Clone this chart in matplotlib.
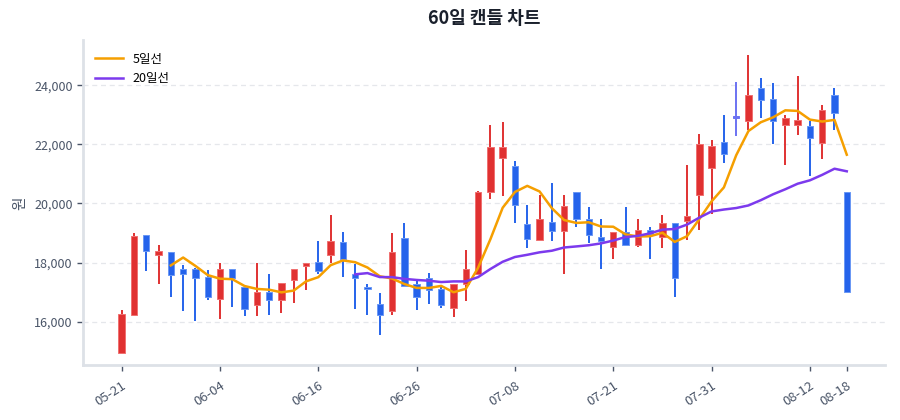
import numpy as np
import pandas as pd
import matplotlib
matplotlib.use("Agg")
import matplotlib.pyplot as plt

plt.rcParams['font.family'] = ['Noto Sans CJK KR', 'DejaVu Sans']

# trading days (MM-DD)
dates = ['05-21', '05-22', '05-23', '05-26', '05-27', '05-28', '05-29', '06-02',
         '06-04', '06-05', '06-06', '06-09', '06-10', '06-11', '06-12', '06-13',
         '06-16', '06-17', '06-18', '06-19', '06-20', '06-23', '06-24', '06-25',
         '06-26', '06-27', '06-30', '07-01', '07-02', '07-03', '07-04', '07-07',
         '07-08', '07-09', '07-10', '07-11', '07-14', '07-15', '07-16', '07-17',
         '07-21', '07-22', '07-23', '07-24', '07-25', '07-28', '07-29', '07-30',
         '07-31', '08-01', '08-04', '08-05', '08-06', '08-07', '08-08', '08-11',
         '08-12', '08-13', '08-14', '08-18']

opens = [14950, 16230, 18930, 18270, 18370, 17800, 17800, 17530, 16760, 17780,
         17190, 16580, 17000, 16720, 17400, 17880, 18010, 18270, 18710, 17620,
         17190, 16600, 16380, 18840, 17280, 17490, 17110, 16470, 17280, 17620,
         20380, 21540, 21270, 19290, 18780, 19390, 19080, 20400, 19460, 18880,
         18530, 19030, 18590, 19120, 18870, 19330, 19420, 20290, 21200, 22070,
         22920, 22790, 23920, 23530, 22640, 22640, 22620, 22040, 23670, 20400]
highs = [16400, 18990, 18950, 18610, 18370, 17910, 17830, 17740, 17990, 17780,
         17230, 18000, 17620, 17320, 17790, 18000, 18740, 19600, 19040, 17960,
         17260, 16980, 18990, 19330, 17400, 17650, 17190, 17290, 18420, 20430,
         22650, 22750, 21430, 19950, 20290, 20690, 20290, 20400, 19870, 19470,
         19040, 19890, 19480, 19210, 19600, 19330, 21300, 22360, 22160, 23000,
         24120, 25020, 24260, 24060, 23010, 24320, 22790, 23320, 23900, 20400]
lows = [14950, 16230, 17710, 17260, 16820, 16380, 16010, 16720, 16090, 16510,
        16200, 16180, 16240, 16310, 16640, 17080, 17620, 17990, 17500, 16430,
        16240, 15560, 16240, 17200, 16400, 16600, 16470, 16170, 16690, 17600,
        20150, 20260, 19330, 18500, 18760, 18720, 17620, 19190, 18670, 17790,
        18110, 18600, 18530, 18130, 18510, 16830, 18760, 19120, 19630, 21370,
        22280, 22480, 22900, 22020, 21310, 22310, 20920, 21510, 22480, 16990]
closes = [16270, 18910, 18400, 18380, 17570, 17600, 17490, 16850, 17770, 17490,
          16440, 17000, 16720, 17320, 17790, 18000, 17710, 18740, 18130, 17490,
          17100, 16230, 18360, 17200, 16830, 17090, 16580, 17290, 17770, 20400,
          21910, 21910, 19960, 18800, 19460, 19080, 19900, 19470, 18920, 18740,
          19040, 18600, 19120, 18960, 19330, 17490, 19560, 22020, 21960, 21690,
          22920, 23670, 23500, 22790, 22880, 22820, 22200, 23170, 23070, 16990]

up_color = '#e03131'
down_color = '#2563eb'
flat_color = '#6b72f2'

fig = plt.figure(figsize=(9, 4.2), dpi=100)
ax = fig.add_axes([0.0922, 0.1298, 0.891, 0.7742])

x = np.arange(len(closes))
for i in x:
    o, h, l, c = opens[i], highs[i], lows[i], closes[i]
    if c > o:
        col, edge = up_color, '#f07070'
    elif c < o:
        col, edge = down_color, '#6a98f5'
    else:
        col, edge = flat_color, flat_color
    ax.vlines(i, l, h, color=col, linewidth=1.4, zorder=2)
    body = max(abs(c - o), 70)
    ax.bar(i, body, bottom=min(o, c) - (body - abs(c - o)) / 2, width=0.52,
           color=col, edgecolor=edge, linewidth=0.7, zorder=3)

s = pd.Series(closes)
ma5 = s.rolling(5).mean()
ma20 = s.rolling(20).mean()
ax.plot(x, ma5, color='#f59f00', linewidth=1.8, label='5일선', zorder=4)
ax.plot(x, ma20, color='#7c3aed', linewidth=1.8, label='20일선', zorder=4)

ax.set_xlim(-3.15, 62.1)
ax.set_ylim(14520, 25520)
ax.set_yticks(np.arange(16000, 24001, 2000))
ax.yaxis.set_major_formatter(matplotlib.ticker.FuncFormatter(lambda v, p: f'{int(v):,}'))

tick_idx = list(range(0, len(dates), 8)) + [len(dates) - 1]
ax.set_xticks(tick_idx)
ax.set_xticklabels([dates[i] for i in tick_idx], rotation=33, ha='right',
                   rotation_mode='anchor')

ax.grid(axis='y', color='#e5e7eb', linestyle=(0, (4, 3)), linewidth=0.9)
ax.set_axisbelow(True)
for side in ['top', 'right']:
    ax.spines[side].set_visible(False)
for side in ['left', 'bottom']:
    ax.spines[side].set_color('#dde1e7')
    ax.spines[side].set_linewidth(2)
ax.tick_params(axis='both', colors='#4a5568', labelsize=9, length=4, width=1)
ax.tick_params(axis='x', labelsize=9.5, pad=6)

ax.set_ylabel('원', color='#4a5568', fontsize=10.5, labelpad=5)
ax.set_title('60일 캔들 차트', fontsize=13, fontweight='bold', color='#1a202c', pad=12)

ax.legend(loc='upper left', frameon=False, fontsize=9, handlelength=2.2,
          borderaxespad=0.6, labelspacing=0.5)

fig.savefig('out.png', dpi=100)
